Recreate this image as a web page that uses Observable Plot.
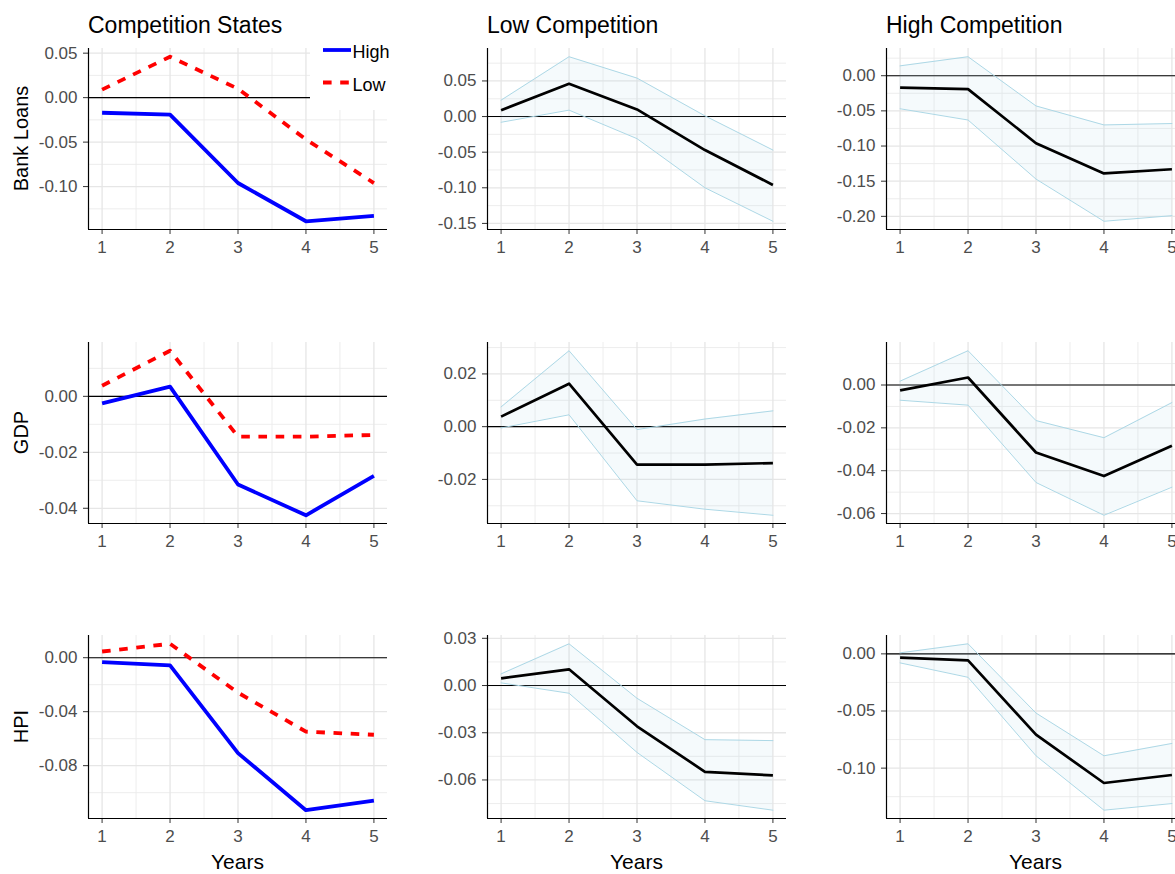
<!DOCTYPE html>
<html>
<head>
<meta charset="utf-8">
<script src="https://cdn.jsdelivr.net/npm/d3@7"></script>
<script src="https://cdn.jsdelivr.net/npm/@observablehq/plot@0.6"></script>
<style>
html, body { margin: 0; padding: 0; background: #fff; overflow: hidden; }
#chart { position: relative; width: 1175px; height: 874px; overflow: hidden; font-family: "Liberation Sans", Arial, sans-serif; background: #fff; }
#chart > svg { position: absolute; }
</style>
</head>
<body>
<div id="chart"></div>
<script>
// ---------- data ----------
const years = [1, 2, 3, 4, 5];
const variables = ["Bank Loans", "GDP", "HPI"];
const columnTitles = ["Competition States", "Low Competition", "High Competition"];
const legendLabels = ["High", "Low"];
const xLabel = "Years";

// Bank loans
const loansHigh      = [-0.017, -0.019, -0.096, -0.139, -0.133];
const loansHighLower = [-0.047, -0.063, -0.147, -0.207, -0.199];
const loansHighUpper = [ 0.014,  0.027, -0.043, -0.070, -0.068];
const loansLow       = [ 0.009,  0.046,  0.010, -0.047, -0.096];
const loansLowLower  = [-0.008,  0.009, -0.031, -0.100, -0.147];
const loansLowUpper  = [ 0.023,  0.084,  0.054,  0.001, -0.047];

// GDP
const gdpHigh      = [-0.0025,  0.0035, -0.0315, -0.0425, -0.0284];
const gdpHighLower = [-0.0071, -0.0094, -0.0455, -0.0608, -0.0477];
const gdpHighUpper = [ 0.0018,  0.0160, -0.0166, -0.0246, -0.0082];
const gdpLow       = [ 0.0038,  0.0163, -0.0144, -0.0144, -0.0138];
const gdpLowLower  = [-0.0005,  0.0045, -0.0281, -0.0313, -0.0336];
const gdpLowUpper  = [ 0.0075,  0.0288, -0.0011,  0.0029,  0.0060];

// HPI
const hpiHigh      = [-0.0032, -0.0057, -0.0707, -0.1130, -0.1060];
const hpiHighLower = [-0.0079, -0.0205, -0.0892, -0.1368, -0.1310];
const hpiHighUpper = [ 0.0009,  0.0088, -0.0518, -0.0892, -0.0784];
const hpiLow       = [ 0.0046,  0.0103, -0.0259, -0.0548, -0.0571];
const hpiLowLower  = [ 0.0017, -0.0049, -0.0425, -0.0732, -0.0792];
const hpiLowUpper  = [ 0.0074,  0.0265, -0.0081, -0.0344, -0.0350];

// y tick values per panel
const loansTicksStates = [-0.10, -0.05, 0.00, 0.05];
const loansTicksLow    = [-0.15, -0.10, -0.05, 0.00, 0.05];
const loansTicksHigh   = [-0.20, -0.15, -0.10, -0.05, 0.00];
const gdpTicksStates   = [-0.04, -0.02, 0.00];
const gdpTicksLow      = [-0.02, 0.00, 0.02];
const gdpTicksHigh     = [-0.06, -0.04, -0.02, 0.00];
const hpiTicksStates   = [-0.08, -0.04, 0.00];
const hpiTicksLow      = [-0.06, -0.03, 0.00, 0.03];
const hpiTicksHigh     = [-0.10, -0.05, 0.00];

// ---------- layout ----------
const colLeft = [0, 399, 798];
const rowTop = [48, 342, 635];
const rowH = [181, 181, 183];
const mL = 88, mR = 12, mT = 10, mB = 40;
const plotW = 399;

const FONT = "'Liberation Sans', Arial, sans-serif";
const colHigh = "#0000FF", colLow = "#FF0000";
const dash = "8.6,8.6";

const chart = document.getElementById("chart");

function rowsOf(vals) { return years.map((x, i) => ({x, y: vals[i]})); }
function bandOf(lo, hi) { return years.map((x, i) => ({x, lo: lo[i], hi: hi[i]})); }

function makePanel(r, c, cfg) {
  const all = [];
  cfg.lines.forEach(l => all.push(...l.values));
  if (cfg.band) { all.push(...cfg.band.lo, ...cfg.band.hi); }
  const [mn, mx] = d3.extent(all);
  const pad = (mx - mn) * 0.05;
  const yDom = [mn - pad, mx + pad];
  const xDom = [d3.min(years) - 0.2, d3.max(years) + 0.2];

  const ticks = cfg.ticks;
  const step = ticks[1] - ticks[0];
  const minorY = [ticks[0] - step / 2, ...ticks.map(t => t + step / 2)].filter(v => v >= yDom[0] && v <= yDom[1]);
  const minorX = years.slice(1).map((v, i) => (v + years[i]) / 2);

  const marks = [
    Plot.ruleX(minorX, {stroke: "#EBEBEB", strokeWidth: 0.9}),
    Plot.ruleY(minorY, {stroke: "#EBEBEB", strokeWidth: 0.9}),
    Plot.ruleX(years, {stroke: "#E6E6E6", strokeWidth: 1.3}),
    Plot.ruleY(ticks, {stroke: "#E6E6E6", strokeWidth: 1.3}),
    Plot.ruleY([0], {stroke: "#000", strokeWidth: 1.1})
  ];
  if (cfg.band) {
    const b = bandOf(cfg.band.lo, cfg.band.hi);
    marks.push(
      Plot.areaY(b, {x: "x", y1: "lo", y2: "hi", fill: "#ADD8E6", fillOpacity: 0.12}),
      Plot.lineY(b, {x: "x", y: "lo", stroke: "#ADD8E6", strokeWidth: 1}),
      Plot.lineY(b, {x: "x", y: "hi", stroke: "#ADD8E6", strokeWidth: 1})
    );
  }
  cfg.lines.forEach(l => {
    marks.push(Plot.lineY(rowsOf(l.values), {
      x: "x", y: "y", stroke: l.color, strokeWidth: l.width,
      strokeDasharray: l.dash || null, strokeLinecap: "butt", strokeLinejoin: "round"
    }));
  });
  marks.push(
    Plot.axisX({ticks: years, tickFormat: d => String(d), tickSize: 5, tickPadding: 6,
      fontSize: 17, stroke: "#333", fill: "#4D4D4D", label: null}),
    Plot.axisY({ticks: ticks, tickFormat: d => (Math.abs(d) < 1e-9 ? 0 : d).toFixed(2), tickSize: 5, tickPadding: 6,
      fontSize: 17, stroke: "#333", fill: "#4D4D4D", label: null}),
    Plot.ruleX([xDom[0]], {stroke: "#000", strokeWidth: 1.2}),
    Plot.ruleY([yDom[0]], {stroke: "#000", strokeWidth: 1.2})
  );

  const svg = Plot.plot({
    width: plotW,
    height: mT + rowH[r] + mB,
    marginTop: mT, marginBottom: mB, marginLeft: mL, marginRight: mR,
    x: {domain: xDom, axis: null},
    y: {domain: yDom, axis: null},
    style: {fontFamily: FONT, fontSize: "17px", background: "transparent", overflow: "visible"},
    marks
  });
  svg.style.left = colLeft[c] + "px";
  svg.style.top = (rowTop[r] - mT) + "px";
  chart.appendChild(svg);
}

const grid = [
  [
    {lines: [{values: loansHigh, color: colHigh, width: 3.8}, {values: loansLow, color: colLow, width: 3.8, dash}], ticks: loansTicksStates},
    {lines: [{values: loansLow, color: "#000", width: 2.7}], band: {lo: loansLowLower, hi: loansLowUpper}, ticks: loansTicksLow},
    {lines: [{values: loansHigh, color: "#000", width: 2.7}], band: {lo: loansHighLower, hi: loansHighUpper}, ticks: loansTicksHigh}
  ],
  [
    {lines: [{values: gdpHigh, color: colHigh, width: 3.8}, {values: gdpLow, color: colLow, width: 3.8, dash}], ticks: gdpTicksStates},
    {lines: [{values: gdpLow, color: "#000", width: 2.7}], band: {lo: gdpLowLower, hi: gdpLowUpper}, ticks: gdpTicksLow},
    {lines: [{values: gdpHigh, color: "#000", width: 2.7}], band: {lo: gdpHighLower, hi: gdpHighUpper}, ticks: gdpTicksHigh}
  ],
  [
    {lines: [{values: hpiHigh, color: colHigh, width: 3.8}, {values: hpiLow, color: colLow, width: 3.8, dash}], ticks: hpiTicksStates},
    {lines: [{values: hpiLow, color: "#000", width: 2.7}], band: {lo: hpiLowLower, hi: hpiLowUpper}, ticks: hpiTicksLow},
    {lines: [{values: hpiHigh, color: "#000", width: 2.7}], band: {lo: hpiHighLower, hi: hpiHighUpper}, ticks: hpiTicksHigh}
  ]
];
grid.forEach((row, r) => row.forEach((cfg, c) => makePanel(r, c, cfg)));

// ---------- overlay text: titles, axis titles, legend ----------
const ov = d3.select(chart).append("svg")
  .attr("width", 1175).attr("height", 874)
  .style("left", "0px").style("top", "0px").style("pointer-events", "none")
  .style("font-family", FONT);

columnTitles.forEach((t, c) => {
  ov.append("text").attr("x", colLeft[c] + mL).attr("y", 33)
    .attr("font-size", 23).attr("fill", "#000").text(t);
});
variables.forEach((t, r) => {
  const cy = rowTop[r] + rowH[r] / 2;
  ov.append("text").attr("transform", `translate(27.5,${cy}) rotate(-90)`)
    .attr("text-anchor", "middle").attr("font-size", 20).attr("fill", "#000").text(t);
});
colLeft.forEach(cl => {
  ov.append("text").attr("x", cl + mL + (plotW - mL - mR) / 2).attr("y", 869)
    .attr("text-anchor", "middle").attr("font-size", 21).attr("fill", "#000").text(xLabel);
});

// legend (inside first panel, top right)
const lg = ov.append("g");
lg.append("rect").attr("x", 310).attr("y", 30).attr("width", 90).attr("height", 80).attr("fill", "#fff");
const legendStyles = [{color: colHigh, dash: null, y: 50, ty: 58}, {color: colLow, dash: dash, y: 82.5, ty: 91}];
legendLabels.forEach((lab, i) => {
  const s = legendStyles[i];
  lg.append("line").attr("x1", 323).attr("x2", 351).attr("y1", s.y).attr("y2", s.y)
    .attr("stroke", s.color).attr("stroke-width", 3.8)
    .attr("stroke-dasharray", s.dash).attr("stroke-linecap", "butt");
  lg.append("text").attr("x", 352.5).attr("y", s.ty).attr("font-size", 18).attr("fill", "#000").text(lab);
});
</script>
</body>
</html>
